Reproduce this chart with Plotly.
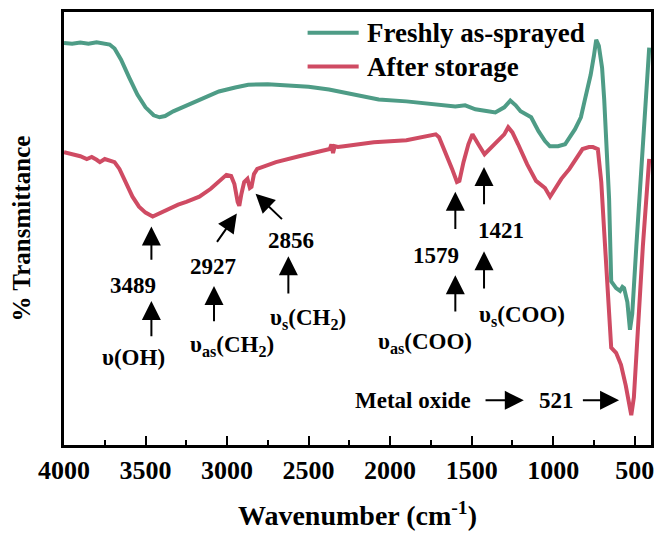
import plotly.graph_objects as go

# ---------------- data ----------------
green_name = "Freshly as-sprayed"
red_name = "After storage"

green_wn = [4000, 3950, 3900, 3850, 3800, 3750, 3720, 3690, 3650, 3600, 3550, 3500, 3450,
            3414, 3380, 3330, 3250, 3150, 3050, 2950, 2870, 2750, 2600, 2500, 2375, 2200,
            2070, 1900, 1703, 1600, 1540, 1477, 1400, 1355, 1300, 1263, 1230, 1200, 1135,
            1090, 1050, 1020, 970, 927, 866, 830, 805, 770, 750, 736, 720, 700, 687, 670,
            657, 644, 614, 590, 575, 565, 545, 529, 515, 490, 460, 430, 411]
green_t = [101.2, 101.0, 101.3, 101.0, 101.4, 101.0, 100.8, 99.8, 97.0, 92.5, 88.2, 85.0, 83.0,
           82.5, 82.8, 84.0, 85.5, 87.3, 89.0, 90.0, 90.7, 90.8, 90.5, 90.2, 89.5, 88.2,
           87.0, 86.5, 85.7, 85.2, 85.5, 84.5, 84.0, 83.7, 85.0, 86.7, 85.5, 84.0, 82.5,
           79.0, 76.5, 75.2, 75.2, 75.7, 79.5, 82.5, 87.0, 93.2, 98.0, 102.0, 100.5, 95.0, 87.0, 75.0,
           62.0, 41.2, 39.5, 38.8, 39.8, 39.5, 36.0, 29.0, 33.0, 50.0, 70.0, 88.0, 100.0]

red_wn = [4000, 3950, 3900, 3860, 3830, 3800, 3780, 3750, 3720, 3690, 3660, 3620, 3580, 3540,
          3500, 3456, 3420, 3380, 3352, 3300, 3250, 3170, 3100, 3050, 3004, 2975, 2955, 2935,
          2925, 2912, 2895, 2875, 2860, 2850, 2835, 2815, 2700, 2558, 2405, 2370, 2360, 2350,
          2340, 2320, 2283, 2100, 1900, 1764, 1720, 1700, 1655, 1620, 1590, 1575, 1550, 1520,
          1495, 1475, 1459, 1421, 1390, 1337, 1300, 1276, 1250, 1215, 1160, 1105, 1070, 1050,
          1019, 990, 950, 900, 850, 820, 780, 756, 726, 705, 687, 663, 644, 614, 584, 555,
          535, 521, 505, 480, 450, 411]
red_t = [73.7, 73.2, 72.7, 72.0, 72.5, 71.8, 71.2, 72.0, 71.5, 71.2, 69.5, 65.7, 62.5, 60.0,
         58.5, 57.5, 58.2, 59.0, 59.5, 60.5, 61.2, 62.5, 64.5, 66.5, 68.0, 67.7, 65.7, 61.2,
         60.2, 63.2, 66.2, 67.0, 64.7, 65.0, 68.2, 69.5, 71.2, 72.7, 74.2, 74.5, 75.7, 73.5,
         75.2, 75.0, 75.2, 76.2, 76.7, 77.7, 78.2, 77.5, 73.2, 69.5, 66.2, 66.5, 71.2, 75.7,
         78.2, 77.0, 75.7, 73.2, 74.5, 77.0, 78.2, 80.0, 78.7, 75.7, 70.7, 66.5, 65.5, 64.7,
         62.5, 64.5, 67.0, 69.5, 72.5, 74.5, 75.0, 75.0, 74.5, 66.2, 53.7, 37.0, 24.5, 23.2, 20.2, 15.0,
         10.5, 7.5, 12.0, 30.0, 50.0, 72.0]

x_tick_vals = [4000, 3500, 3000, 2500, 2000, 1500, 1000, 500]
x_tick_text = ["4000", "3500", "3000", "2500", "2000", "1500", "1000", "500"]

# ---------------- style ----------------
GREEN = "#4E9C86"
RED = "#CF4B63"
FONT = "Liberation Serif, Times New Roman, serif"

fig = go.Figure()
fig.add_trace(go.Scatter(x=green_wn, y=green_t, mode="lines", name=green_name,
                         line=dict(color=GREEN, width=4), showlegend=False))
fig.add_trace(go.Scatter(x=red_wn, y=red_t, mode="lines", name=red_name,
                         line=dict(color=RED, width=4), showlegend=False))

# manual legend (longer line samples, like the reference)
for yy, col, name in [(0.952, GREEN, green_name), (0.874, RED, red_name)]:
    fig.add_shape(type="line", xref="paper", yref="paper", x0=0.415, x1=0.502, y0=yy, y1=yy,
                  line=dict(color=col, width=4))
    fig.add_annotation(xref="paper", yref="paper", x=0.512, y=yy, text=name, showarrow=False,
                       xanchor="left", yanchor="middle",
                       font=dict(family=FONT, size=27, color="black", weight="bold"))

# annotation texts: (text, x, y)
labels = [
    ("3489", 3574, 40.25), ("υ(OH)", 3574, 22.0),
    ("2927", 3086, 45.0), ("υ<sub>as</sub>(CH<sub>2</sub>)", 2971, 25.0),
    ("2856", 2605, 51.5), ("υ<sub>s</sub>(CH<sub>2</sub>)", 2502, 31.8),
    ("1579", 1716, 47.75), ("υ<sub>as</sub>(COO)", 1789, 25.8),
    ("1421", 1320, 54.0), ("υ<sub>s</sub>(COO)", 1192, 32.5),
    ("Metal oxide", 1862, 11.25), ("521", 979, 11.25),
]
for t, xx, yy in labels:
    fig.add_annotation(x=xx, y=yy, text=t, showarrow=False, xanchor="center", yanchor="middle",
                       font=dict(family=FONT, size=23, color="black", weight="bold"))

# arrows: (tail_x, tail_y, head_x, head_y)
arrows = [
    (3464, 46.25, 3464, 55.0), (3464, 27.0, 3464, 36.25),
    (3068, 50.75, 2940, 58.25), (3080, 30.75, 3080, 40.0),
    (2654, 56.5, 2825, 63.25), (2624, 37.75, 2624, 47.5),
    (1600, 54.0, 1600, 63.75), (1600, 33.25, 1600, 42.75),
    (1424, 60.25, 1424, 70.0), (1424, 39.0, 1424, 48.75),
    (1424, 11.25, 1180, 11.25), (827, 11.25, 596, 11.25),
]
for ax_, ay_, hx, hy in arrows:
    fig.add_annotation(x=hx, y=hy, ax=ax_, ay=ay_, xref="x", yref="y", axref="x", ayref="y",
                       text="", showarrow=True, arrowhead=2, arrowsize=1.9, arrowwidth=2,
                       arrowcolor="black", standoff=0, startstandoff=0)

fig.update_layout(
    width=661, height=534,
    margin=dict(l=64, r=7, t=12, b=86),
    paper_bgcolor="white", plot_bgcolor="white",
    font=dict(family=FONT, color="black", weight="bold"),
)
fig.update_xaxes(
    range=[4000, 400], tickvals=x_tick_vals, ticktext=x_tick_text,
    ticks="inside", ticklen=9, tickwidth=2, tickcolor="black",
    minor=dict(dtick=250, tick0=0, ticks="inside", ticklen=5, tickwidth=2, tickcolor="black"),
    showline=True, linewidth=3, linecolor="black", mirror=True,
    showgrid=False, zeroline=False,
    tickfont=dict(family=FONT, size=26, color="black", weight="bold"),
    title=dict(text="Wavenumber (cm<sup>-1</sup>)", standoff=22,
               font=dict(family=FONT, size=28, color="black", weight="bold")),
)
fig.update_yaxes(
    range=[0, 109], showticklabels=False, ticks="",
    showline=True, linewidth=3, linecolor="black", mirror=True,
    showgrid=False, zeroline=False,
    title=dict(text="% Transmittance", standoff=24,
               font=dict(family=FONT, size=25, color="black", weight="bold")),
)

fig.write_html("out.html")
